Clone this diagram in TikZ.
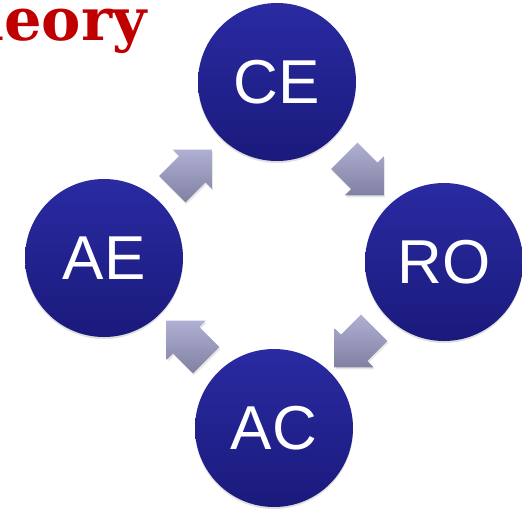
\documentclass[tikz,border=0pt]{standalone}
\usepackage{fontspec}
\newfontfamily\stagefont{Liberation Sans}
\newfontfamily\titlefont{DejaVu Serif}
\usetikzlibrary{positioning}
\usetikzlibrary{calc}
\usetikzlibrary{shapes.arrows}
\usetikzlibrary{shadows}
\definecolor{stagetop}{RGB}{42,42,162}
\definecolor{stagebot}{RGB}{26,26,124}
\definecolor{flowtop}{RGB}{176,176,212}
\definecolor{flowbot}{RGB}{128,128,162}
\definecolor{titlered}{RGB}{192,0,0}

\begin{document}
\begin{tikzpicture}[x=1pt, y=-1pt,
    stage/.style={circle, minimum size=158pt, inner sep=0pt,
      top color=stagetop, bottom color=stagebot,
      drop shadow={opacity=0.25, shadow xshift=0pt, shadow yshift=-2pt},
      text=white, font=\stagefont\fontsize{62}{62}\selectfont},
    flow/.style={single arrow, shape border uses incircle,
      minimum height=46pt, inner xsep=0pt, inner ysep=13pt,
      single arrow head extend=9pt,
      top color=flowtop, bottom color=flowbot,
      drop shadow={opacity=0.2, shadow xshift=1pt, shadow yshift=-2pt}}]
  \useasboundingbox (0,0) rectangle (522,512);
  % title, cut at the left edge
  \node[anchor=base west, inner sep=0pt, text=titlered,
        font=\titlefont\bfseries\fontsize{59}{59}\selectfont] (title) at (4,40) {\llap{Th}eory};
  % the four stages
  \node[stage] (ce) at (277,82) {CE};
  \node[stage] (ro) at (444,262) {RO};
  \node[stage] (ac) at (274,428) {AC};
  \node[stage] (ae) at (104,258) {AE};
  % arrows between them
  \node[flow, shape border rotate=-45] (ce-ro) at ($(ce)!0.5!(ro)+(-3,-3)$) {};
  \node[flow, shape border rotate=-135] (ro-ac) at ($(ro)!0.5!(ac)+(2,-4)$) {};
  \node[flow, shape border rotate=135] (ac-ae) at ($(ac)!0.5!(ae)+(4,4)$) {};
  \node[flow, shape border rotate=45] (ae-ce) at ($(ae)!0.5!(ce)+(-5,6)$) {};
\end{tikzpicture}
\end{document}
